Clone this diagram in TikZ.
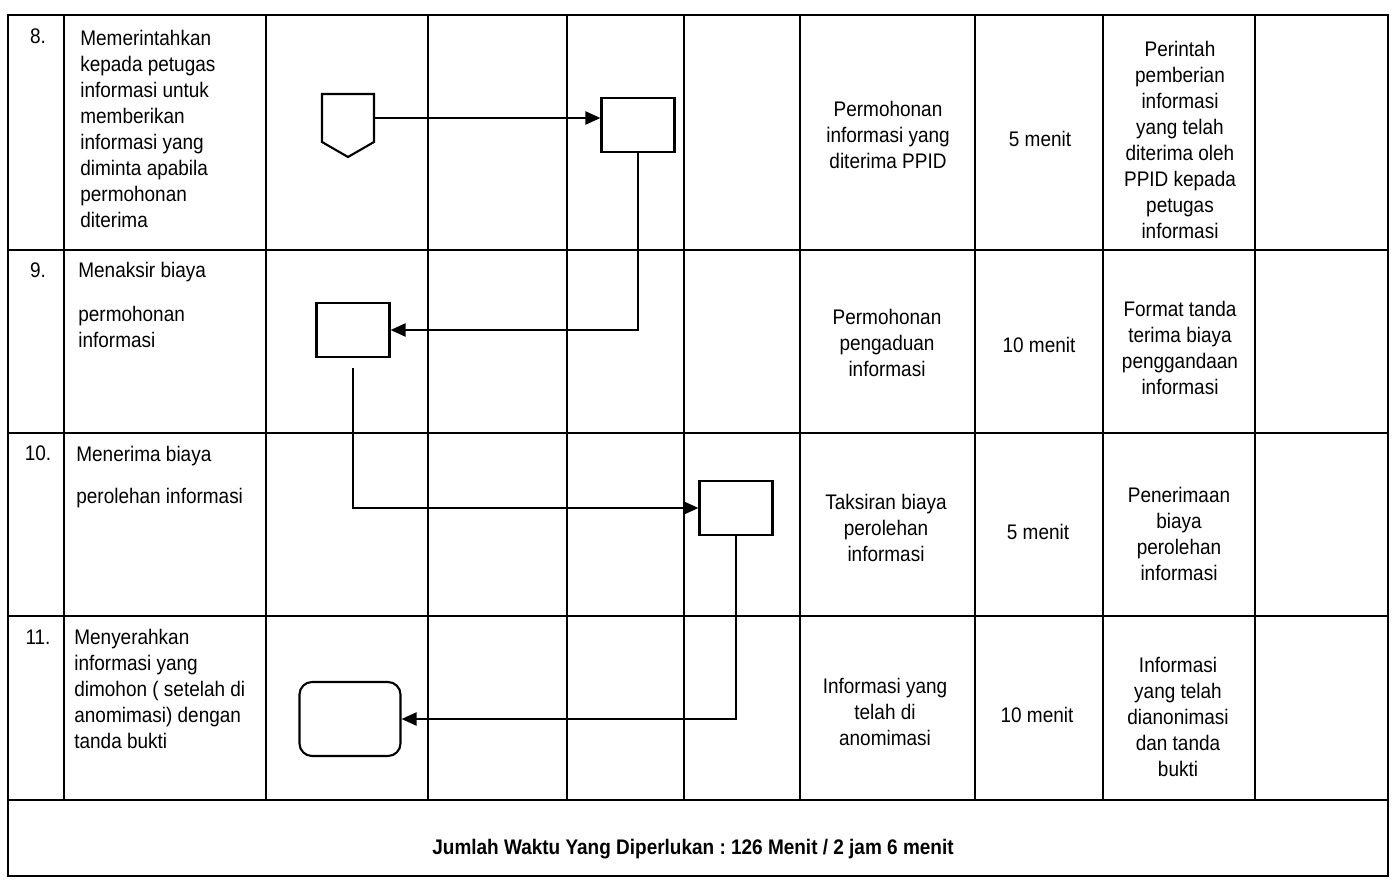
\documentclass[tikz,border=0pt]{standalone}
\usepackage{fontspec}
\setmainfont{Liberation Sans}[FakeStretch=0.9]
\frenchspacing
\usetikzlibrary{arrows.meta,shapes.symbols}

\begin{document}
\begin{tikzpicture}[x=0.02cm,y=-0.02cm,
    tbl/.style={line width=1pt},
    txt/.style={inner sep=0pt,font=\fontsize{12}{14.8}\selectfont},
    num/.style={txt,anchor=base},
    task/.style={txt,align=left,anchor=north west},
    cell/.style={txt,align=center},
    box/.style={draw,line width=1.2pt,minimum width=1.46cm,minimum height=1.07cm,inner sep=0pt},
    term/.style={box,rounded corners=0.25cm,minimum width=2.02cm,minimum height=1.48cm},
    conn/.style={draw,line width=1.2pt,signal,signal to=south,signal pointer angle=120,
                 minimum width=1.04cm,minimum height=0.96cm,inner sep=0pt},
    flow/.style={line width=1.3pt,-{Triangle[length=0.3cm,width=0.26cm]}}]
    \useasboundingbox (0,0) rectangle (1400,892);

    % table
    \draw[tbl] (8,15) rectangle (1388,876);
    \foreach \y in {250,433,616,800}
        \draw[tbl] (8,\y) -- (1388,\y);
    \foreach \x in {64,266,428,567,684,800,975,1103,1255}
        \draw[tbl] (\x,15) -- (\x,800);

    % row numbers and tasks
    \node[num] (n8)  at (38,44)  {8.};
    \node[num] (n9)  at (38,277) {9.};
    \node[num] (n10) at (38,460) {10.};
    \node[num] (n11) at (38,644) {11.};
    \node[task] (k8)  at (80,30)  {Memerintahkan\\kepada petugas\\informasi untuk\\memberikan\\informasi yang\\diminta apabila\\permohonan\\diterima};
    \node[task] (k9)  at (78,262) {Menaksir biaya\\[10pt]permohonan\\informasi};
    \node[task] (k10) at (76,446) {Menerima biaya\\[9pt]perolehan informasi};
    \node[task] (k11) at (74,629) {Menyerahkan\\informasi yang\\dimohon ( setelah di\\anomimasi) dengan\\tanda bukti};

    % flow shapes
    \node[conn] (c8)  at (348,118) {};
    \node[box]  (b8)  at (638,125) {};
    \node[box]  (b9)  at (353,330) {};
    \node[box]  (b10) at (736,508) {};
    \node[term] (e11) at (350,719) {};

    \draw[flow] (c8.east) -- (c8.east -| b8.west);
    \draw[flow] (b8.south) |- (b9.east);
    \draw[flow,shorten <=0.2cm] (b9.south) |- (b10.west);
    \draw[flow] (b10.south) |- (e11.east);

    % kelengkapan, waktu, output
    \node[cell] (m8)  at (888,135) {Permohonan\\informasi yang\\diterima PPID};
    \node[cell] (m9)  at (887,343) {Permohonan\\pengaduan\\informasi};
    \node[cell] (m10) at (886,528) {Taksiran biaya\\perolehan\\informasi};
    \node[cell] (m11) at (885,712) {Informasi yang\\telah di\\anomimasi};
    \node[cell] (w8)  at (1040,139) {5 menit};
    \node[cell] (w9)  at (1039,345) {10 menit};
    \node[cell] (w10) at (1038,532) {5 menit};
    \node[cell] (w11) at (1037,715) {10 menit};
    \node[cell] (o8)  at (1180,140) {Perintah\\pemberian\\informasi\\yang telah\\diterima oleh\\PPID kepada\\petugas\\informasi};
    \node[cell] (o9)  at (1180,348) {Format tanda\\terima biaya\\penggandaan\\informasi};
    \node[cell] (o10) at (1179,534) {Penerimaan\\biaya\\perolehan\\informasi};
    \node[cell] (o11) at (1178,717) {Informasi\\yang telah\\dianonimasi\\dan tanda\\bukti};

    \node[cell,font=\fontsize{12}{14.8}\selectfont\bfseries] (tot) at (693,849)
        {Jumlah Waktu Yang Diperlukan : 126 Menit / 2 jam 6 menit};
\end{tikzpicture}
\end{document}
